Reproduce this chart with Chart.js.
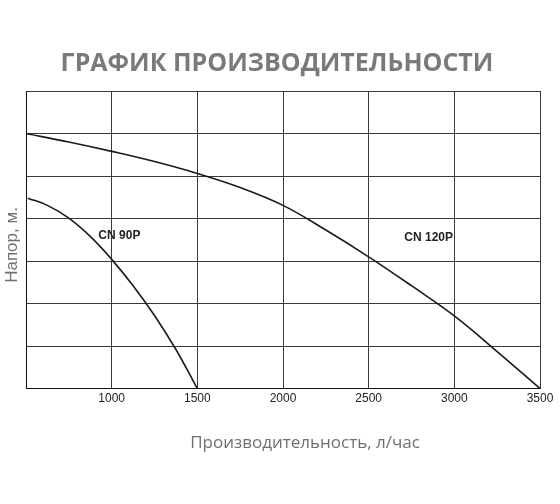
<!DOCTYPE html>
<html>
<head>
<meta charset="utf-8">
<script src="https://cdn.jsdelivr.net/npm/chart.js@4/dist/chart.umd.min.js"></script>
<style>
  html, body { margin: 0; padding: 0; background: #fff; }
  #wrap { width: 560px; height: 504px; }
</style>
</head>
<body>
<div id="wrap"><canvas id="chart" width="560" height="504"></canvas></div>
<script>
// flow, l/h
const flowCN90 = [510, 625, 750, 875, 1000, 1125, 1250, 1375, 1500];
const flowCN120 = [500, 750, 1000, 1250, 1500, 1750, 2000, 2250, 2500, 2750, 3000, 3250, 3500];
// head (grid units)
const headCN90 = [4.48, 4.31, 4.01, 3.58, 3.04, 2.42, 1.72, 0.92, 0];
const headCN120 = [6.0, 5.8, 5.58, 5.34, 5.06, 4.73, 4.31, 3.73, 3.1, 2.42, 1.71, 0.87, 0];

const xTicks = [500, 1000, 1500, 2000, 2500, 3000, 3500];
const curveLabels = ["CN 90P", "CN 120P"];
const labelPos = [[1045, 3.59], [2850, 3.55]];
const xTitle = "Производительность, л/час";
const yTitle = "Напор, м.";

const toPoints = (xs, ys) => xs.map((x, i) => ({ x: x, y: ys[i] }));

// model names next to the curves, plus the axis captions (they sit off-centre in the original)
const textPlugin = {
  id: "chartTexts",
  afterDatasetsDraw(chart) {
    const ctx = chart.ctx;
    const xs = chart.scales.x;
    const ys = chart.scales.y;
    ctx.save();
    ctx.font = "bold 12px 'Liberation Sans', Arial, sans-serif";
    ctx.fillStyle = "#222";
    ctx.textAlign = "center";
    ctx.textBaseline = "middle";
    curveLabels.forEach((txt, i) => {
      ctx.fillText(txt, xs.getPixelForValue(labelPos[i][0]), ys.getPixelForValue(labelPos[i][1]));
    });

    ctx.fillStyle = "#707070";
    ctx.font = "17px 'Open Sans', sans-serif";
    ctx.fillText(xTitle, 305, 443);

    ctx.font = "17px 'Liberation Sans', Arial, sans-serif";
    ctx.translate(12, 245);
    ctx.rotate(-Math.PI / 2);
    ctx.fillText(yTitle, 0, 0);
    ctx.restore();
  },
};

const lineStyle = {
  showLine: true,
  borderColor: "#1a1a1a",
  borderWidth: 1.6,
  pointRadius: 0,
  tension: 0.4,
  fill: false,
};

new Chart(document.getElementById("chart"), {
  type: "scatter",
  data: {
    datasets: [
      Object.assign({ label: curveLabels[0], data: toPoints(flowCN90, headCN90) }, lineStyle),
      Object.assign({ label: curveLabels[1], data: toPoints(flowCN120, headCN120) }, lineStyle),
    ],
  },
  options: {
    responsive: false,
    animation: false,
    layout: { padding: { left: 14, right: 20, top: 0, bottom: 95 } },
    plugins: {
      legend: { display: false },
      tooltip: { enabled: false },
      title: {
        display: true,
        text: "ГРАФИК ПРОИЗВОДИТЕЛЬНОСТИ",
        color: "#7a7a7a",
        font: { family: "'Open Sans', sans-serif", size: 25, weight: "bold", lineHeight: 1.2 },
        padding: { top: 49, bottom: 12 },
      },
    },
    scales: {
      x: {
        type: "linear",
        min: 500,
        max: 3500,
        afterBuildTicks: (axis) => { axis.ticks = xTicks.map((v) => ({ value: v })); },
        ticks: {
          color: "#222",
          font: { family: "'Liberation Sans', Arial, sans-serif", size: 12 },
          padding: 3,
          maxRotation: 0,
          callback: (v) => (v === 500 ? "" : String(v)),
        },
        grid: { color: "#3a3a3a", lineWidth: 1, drawTicks: false },
        border: { color: "#111", width: 1 },
      },
      y: {
        type: "linear",
        min: 0,
        max: 7,
        afterFit: (axis) => { axis.width = 12; },
        ticks: { stepSize: 1, display: false },
        grid: { color: "#3a3a3a", lineWidth: 1, drawTicks: false },
        border: { color: "#111", width: 1 },
      },
    },
  },
  plugins: [textPlugin],
});
</script>
</body>
</html>
